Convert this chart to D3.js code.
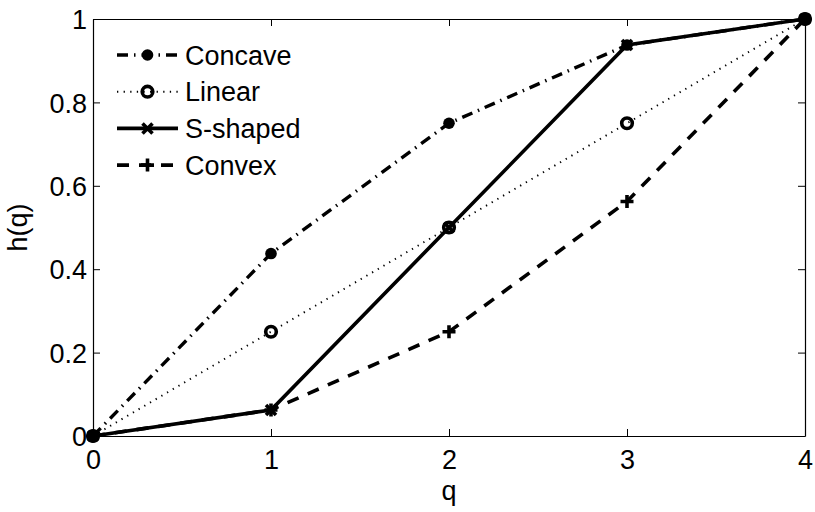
<!DOCTYPE html>
<html>
<head>
<meta charset="utf-8">
<script src="https://cdn.jsdelivr.net/npm/d3@7"></script>
<style>
  body { margin: 0; background: #fff; }
  svg text { font-family: "Liberation Sans", Arial, sans-serif; fill: #000; }
</style>
</head>
<body>
<div id="wrapper"></div>
<script>
// data
const qValues = [0, 1, 2, 3, 4];
const concave = [0, 0.4375, 0.75, 0.9375, 1];
const linear = [0, 0.25, 0.5, 0.75, 1];
const sShaped = [0, 0.0625, 0.5, 0.9375, 1];
const convex = [0, 0.0625, 0.25, 0.5625, 1];
const seriesNames = ["Concave", "Linear", "S-shaped", "Convex"];
const xTicks = [0, 1, 2, 3, 4];
const yTicks = [0, 0.2, 0.4, 0.6, 0.8, 1];

const seriesValues = [concave, linear, sShaped, convex];
const seriesStyle = [
  { dash: "11,6,1.5,6", width: 3.4, marker: "dot" },
  { dash: "1.3,5.3", width: 1.9, marker: "circle" },
  { dash: null, width: 3.6, marker: "x" },
  { dash: "12,10", width: 3.6, marker: "plus" }
];

const dataset = seriesNames.map((name, i) => ({
  name,
  style: seriesStyle[i],
  points: qValues.map((q, j) => ({ q, h: seriesValues[i][j] }))
}));

let dimensions = {
  width: 815,
  height: 512,
  marginTop: 19,
  marginRight: 10,
  marginBottom: 76,
  marginLeft: 93
};
dimensions.boundedWidth = dimensions.width - dimensions.marginLeft - dimensions.marginRight;
dimensions.boundedHeight = dimensions.height - dimensions.marginTop - dimensions.marginBottom;

const fontSize = 27;

const wrapper = d3.select("#wrapper")
  .append("svg")
    .attr("width", dimensions.width)
    .attr("height", dimensions.height);

const bounds = wrapper.append("g")
    .attr("transform", `translate(${dimensions.marginLeft},${dimensions.marginTop})`);

const xScale = d3.scaleLinear()
  .domain([0, 4])
  .range([0, dimensions.boundedWidth]);

const yScale = d3.scaleLinear()
  .domain([0, 1])
  .range([dimensions.boundedHeight, 0]);

// axes, matlab style: box with inward ticks on all sides
const tickLen = 7;
const fmt = d => d3.format("~g")(d);

const xAxis = bounds.append("g")
  .attr("transform", `translate(0,${dimensions.boundedHeight})`)
  .call(d3.axisBottom(xScale).tickValues(xTicks).tickFormat(fmt).tickSizeInner(-tickLen).tickSizeOuter(0));

const xAxisTop = bounds.append("g")
  .call(d3.axisTop(xScale).tickValues(xTicks).tickFormat("").tickSizeInner(-tickLen).tickSizeOuter(0));

const yAxis = bounds.append("g")
  .call(d3.axisLeft(yScale).tickValues(yTicks).tickFormat(fmt).tickSizeInner(-tickLen).tickSizeOuter(0).tickPadding(6));

const yAxisRight = bounds.append("g")
  .attr("transform", `translate(${dimensions.boundedWidth},0)`)
  .call(d3.axisRight(yScale).tickValues(yTicks).tickFormat("").tickSizeInner(-tickLen).tickSizeOuter(0));

[xAxis, xAxisTop, yAxis, yAxisRight].forEach(ax => {
  ax.select(".domain").attr("stroke", "#000").attr("stroke-width", 1.2);
  ax.selectAll(".tick line").attr("stroke", "#000").attr("stroke-width", 1);
  ax.selectAll("text")
    .style("font-size", `${fontSize}px`)
    .style("font-family", "'Liberation Sans', Arial, sans-serif")
    .attr("fill", "#000");
});
xAxis.selectAll("text").attr("y", 14).attr("dy", "0.71em");
yAxis.selectAll("text").attr("dy", "0.36em");

// axis labels
wrapper.append("text")
  .attr("x", dimensions.marginLeft + dimensions.boundedWidth / 2)
  .attr("y", 500)
  .attr("text-anchor", "middle")
  .style("font-size", `${fontSize}px`)
  .text("q");

wrapper.append("text")
  .attr("transform", `translate(27,${dimensions.marginTop + dimensions.boundedHeight / 2}) rotate(-90)`)
  .attr("text-anchor", "middle")
  .style("font-size", `${fontSize}px`)
  .text("h(q)");

// markers
const drawMarker = (g, type, cx, cy) => {
  if (type === "dot") {
    g.append("circle").attr("cx", cx).attr("cy", cy).attr("r", 5.8).attr("fill", "#000");
  } else if (type === "circle") {
    g.append("circle").attr("cx", cx).attr("cy", cy).attr("r", 5.3)
      .attr("fill", "none").attr("stroke", "#000").attr("stroke-width", 3.6);
  } else if (type === "x") {
    const s = 5;
    g.append("path")
      .attr("d", `M${cx - s},${cy - s}L${cx + s},${cy + s}M${cx - s},${cy + s}L${cx + s},${cy - s}`)
      .attr("stroke", "#000").attr("stroke-width", 3.6).attr("fill", "none");
  } else if (type === "plus") {
    const s = 6.5;
    g.append("path")
      .attr("d", `M${cx - s},${cy}L${cx + s},${cy}M${cx},${cy - s}L${cx},${cy + s}`)
      .attr("stroke", "#000").attr("stroke-width", 3.6).attr("fill", "none");
  }
};

const lineGenerator = d3.line()
  .x(d => xScale(d.q))
  .y(d => yScale(d.h));

dataset.forEach(series => {
  const g = bounds.append("g");
  g.append("path")
    .attr("d", lineGenerator(series.points))
    .attr("fill", "none")
    .attr("stroke", "#000")
    .attr("stroke-width", series.style.width)
    .attr("stroke-dasharray", series.style.dash);
  series.points.forEach(p => drawMarker(g, series.style.marker, xScale(p.q), yScale(p.h)));
});

// legend (no box)
const legend = wrapper.append("g");
dataset.forEach((series, i) => {
  const y = 55 + i * 36.7;
  const row = legend.append("g");
  row.append("line")
    .attr("x1", 117).attr("x2", 178)
    .attr("y1", y).attr("y2", y)
    .attr("stroke", "#000")
    .attr("stroke-width", series.style.width)
    .attr("stroke-dasharray", series.style.dash);
  drawMarker(row, series.style.marker, 147.5, y);
  row.append("text")
    .attr("x", 185)
    .attr("y", y)
    .attr("dy", "0.36em")
    .style("font-size", `${fontSize}px`)
    .text(series.name);
});
</script>
</body>
</html>
